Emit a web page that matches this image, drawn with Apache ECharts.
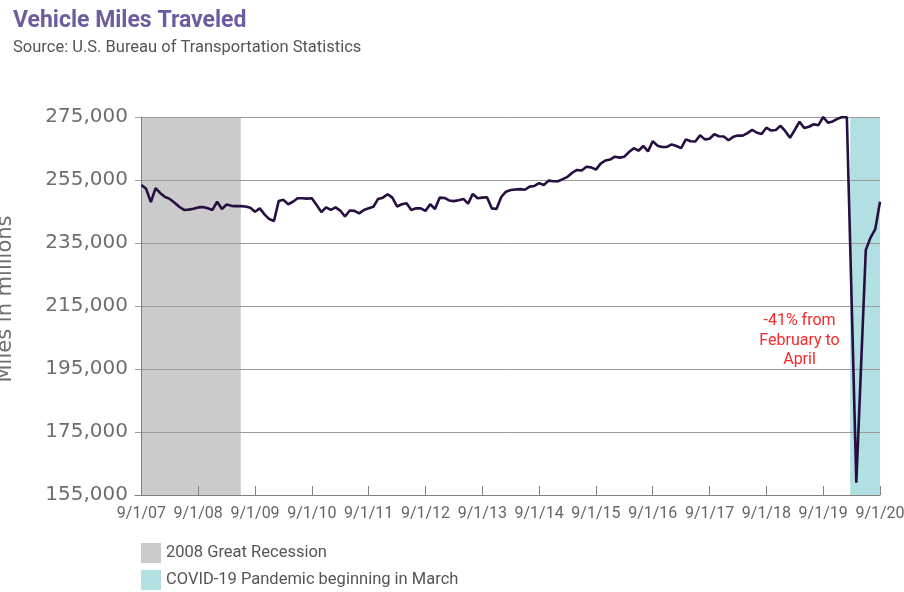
<!DOCTYPE html>
<html>
<head>
<meta charset="utf-8">
<title>Vehicle Miles Traveled</title>
<script src="https://cdn.jsdelivr.net/npm/echarts@6.0.0/dist/echarts.min.js"></script>
<style>
    html, body { margin: 0; padding: 0; background: #fff; }
    #vmtChart { width: 904px; height: 592px; }
</style>
</head>
<body>
<div id="vmtChart"></div>
<script>
// x values are months counted from 9/1/07 (index 0)
var tickMonths = [0, 12, 24, 36, 48, 60, 72, 84, 96, 108, 120, 132, 144, 156];
var tickLabels = ['9/1/07', '9/1/08', '9/1/09', '9/1/10', '9/1/11', '9/1/12', '9/1/13',
    '9/1/14', '9/1/15', '9/1/16', '9/1/17', '9/1/18', '9/1/19', '9/1/20'];

// monthly vehicle miles traveled, millions (9/07 .. 9/20)
var vmt = [
    253400, 252200, 248000, 252400,
    250800, 249600, 249000, 247800, 246500, 245500, 245600, 245900, 246300, 246400, 246000, 245500,
    248100, 245800, 247200, 246800, 246700, 246700, 246600, 246200, 244900, 246000, 244100, 242600,
    242000, 248300, 248700, 247300, 248100, 249200, 249200, 249100, 249200, 247100, 244800, 246300,
    245500, 246300, 245300, 243400, 245300, 245200, 244400, 245500, 246000, 246500, 249000, 249400,
    250500, 249400, 246600, 247300, 247600, 245500, 246000, 246000, 245200, 247300, 245800, 249400,
    249300, 248500, 248300, 248600, 249000, 247500, 250600, 249200, 249400, 249500, 246000, 245800,
    249600, 251300, 251800, 252000, 252100, 251900, 252900, 253100, 254000, 253400, 254800, 254600,
    254600, 255300, 256000, 257300, 258200, 258000, 259200, 259000, 258300, 260200, 261200, 261500,
    262400, 262100, 262400, 263900, 265100, 264300, 265800, 264100, 267300, 265900, 265500, 265500,
    266300, 265800, 265100, 267900, 267300, 267200, 269200, 267900, 268100, 269500, 268900, 268800,
    267600, 268700, 269100, 269100, 269900, 270900, 270000, 269600, 271600, 270700, 270900, 272200,
    270500, 268400, 270900, 273500, 271500, 271900, 272700, 272400, 275000, 273200, 273600, 274400,
    275000, 274900, 217000, 158900, 196000, 232800, 236700, 239400, 248100
];

var recessionBand = [0, 21];
var covidBand = [149.7, 156];
var noteAt = [139, 204000];
var noteText = '-41% from\nFebruary to\nApril';

var vmtChart = echarts.init(document.getElementById('vmtChart'));

var lineData = [];
for (var i = 0; i < vmt.length; i++) {
    lineData.push([i, vmt[i]]);
}

vmtChart.setOption({
    animation: false,
    backgroundColor: '#fff',
    title: {
        left: 8,
        top: 5,
        padding: [5, 5, 5, 5],
        text: 'Vehicle Miles Traveled',
        subtext: 'Source: U.S. Bureau of Transportation Statistics',
        itemGap: 6,
        textStyle: {
            fontFamily: 'Roboto',
            fontSize: 23,
            fontWeight: 'bold',
            color: '#6c5d9e'
        },
        subtextStyle: {
            fontFamily: 'Roboto',
            fontSize: 16.5,
            color: '#555'
        }
    },
    legend: {
        orient: 'vertical',
        left: 141,
        top: 543,
        padding: 0,
        itemWidth: 20,
        itemHeight: 20,
        itemGap: 7,
        icon: 'rect',
        selectedMode: false,
        itemStyle: { borderWidth: 0 },
        data: ['2008 Great Recession', 'COVID-19 Pandemic beginning in March'],
        textStyle: {
            fontFamily: 'Roboto',
            fontSize: 16.5,
            color: '#555',
            padding: [3, 0, 0, 0]
        }
    },
    grid: {
        left: 135,
        right: 24,
        top: 117,
        bottom: 97,
        outerBoundsMode: 'none'
    },
    graphic: [{
        type: 'text',
        x: 6,
        y: 299,
        rotation: Math.PI / 2,
        style: {
            text: 'Miles in millions',
            fontFamily: 'DejaVu Sans',
            fontSize: 21,
            fill: '#6e6e6e',
            align: 'center',
            verticalAlign: 'middle'
        }
    }],
    xAxis: {
        type: 'value',
        min: -1.35,
        max: 156,
        z: 2,
        axisLine: { lineStyle: { color: '#808080', width: 1 } },
        axisTick: {
            show: true,
            inside: true,
            length: 9,
            customValues: tickMonths,
            lineStyle: { color: '#808080' }
        },
        axisLabel: {
            customValues: tickMonths,
            formatter: function (v) {
                return tickLabels[Math.round(v / 12)];
            },
            fontFamily: 'Roboto',
            fontSize: 16,
            color: '#666',
            margin: 11
        },
        splitLine: { show: false }
    },
    yAxis: {
        type: 'value',
        min: 155000,
        max: 275000,
        interval: 20000,
        z: 2,
        axisLine: { show: true, lineStyle: { color: '#808080', width: 1 } },
        axisTick: { show: false },
        axisLabel: {
            formatter: function (v) {
                return v.toLocaleString('en-US');
            },
            fontFamily: 'DejaVu Sans',
            fontSize: 20,
            color: '#6e6e6e',
            margin: 7,
            padding: [0, 0, 8, 0]
        },
        splitLine: { lineStyle: { color: '#9b9b9b', width: 1 } }
    },
    series: [{
        name: '2008 Great Recession',
        type: 'line',
        z: 1,
        data: [],
        itemStyle: { color: '#cbcbcb' },
        lineStyle: { color: '#cbcbcb' },
        markArea: {
            silent: true,
            itemStyle: { color: '#cbcbcb' },
            data: [[{ xAxis: recessionBand[0] }, { xAxis: recessionBand[1] }]]
        }
    }, {
        name: 'COVID-19 Pandemic beginning in March',
        type: 'line',
        z: 1,
        data: [],
        itemStyle: { color: '#b1dfe2' },
        lineStyle: { color: '#b1dfe2' },
        markArea: {
            silent: true,
            itemStyle: { color: '#b1dfe2' },
            data: [[{ xAxis: covidBand[0] }, { xAxis: covidBand[1] }]]
        }
    }, {
        name: 'Vehicle Miles Traveled',
        type: 'line',
        z: 3,
        symbol: 'none',
        data: lineData,
        lineStyle: { color: '#260e40', width: 2.6 },
        markPoint: {
            silent: true,
            symbolSize: 0,
            data: [{ coord: noteAt }],
            label: {
                show: true,
                position: 'inside',
                formatter: noteText,
                fontFamily: 'Roboto',
                fontSize: 16,
                lineHeight: 19.5,
                color: '#f72a2a',
                align: 'center'
            }
        }
    }]
});
</script>
</body>
</html>
